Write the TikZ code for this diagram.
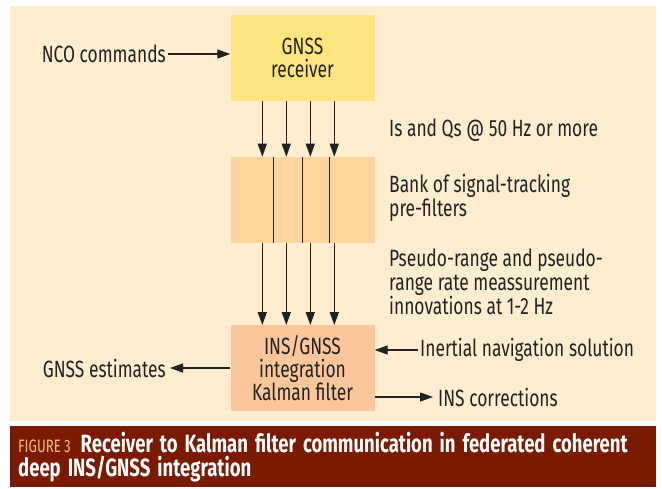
\documentclass[tikz,border=0pt]{standalone}
\usepackage{fontspec}
\setmainfont{Fira Sans}[FakeStretch=0.74]
\usetikzlibrary{positioning}
\usetikzlibrary{arrows.meta}

\definecolor{panelbg}{HTML}{FEEDCE}
\definecolor{rxfill}{HTML}{FFE57F}
\definecolor{bankfill}{HTML}{FDD59D}
\definecolor{kffill}{HTML}{FBC79A}
\definecolor{capbg}{HTML}{7A1A00}
\definecolor{capfig}{HTML}{F4C07A}
\definecolor{linecol}{HTML}{222222}

\tikzset{
  blk/.style={minimum width=144pt, minimum height=86pt, inner sep=0pt, align=center,
    font=\fontsize{23.5}{23}\selectfont, text=linecol},
  lbl/.style={inner sep=0pt, align=left, font=\fontsize{23.5}{24}\selectfont, text=linecol},
  arr/.style={line width=1.3pt, draw=linecol, -{Triangle[length=13pt,width=9pt]}},
}

\begin{document}
\begin{tikzpicture}[x=1pt, y=-1pt, node distance=56pt]
        \useasboundingbox (0,0) rectangle (662,488);
        \fill[panelbg] (10,6) rectangle (656,421);
        \fill[capbg] (10,426) rectangle (656,487);

        % Define nodes
        \node[blk, fill=rxfill]                   (rx)   at (302.5,57.5) {GNSS\\receiver};
        \node[blk, fill=bankfill, below=of rx]    (bank) {};
        \node[blk, fill=kffill, below=82pt of bank] (kf) {INS/GNSS\\integration\\Kalman filter};

        \node[lbl, anchor=east]  (nco)  at (166,54)  {NCO commands};
        \node[lbl, anchor=west]  (iq)   at (389,130) {Is and Qs @ 50 Hz or more};
        \node[lbl, anchor=west]  (bdesc) at (389,198) {Bank of signal-tracking\\pre-filters};
        \node[lbl, anchor=west]  (inno) at (389,282) {Pseudo-range and pseudo-\\range rate meassurement\\innovations at 1-2 Hz};
        \node[lbl, anchor=west]  (ins)  at (420,350) {Inertial navigation solution};
        \node[lbl, anchor=east]  (est)  at (166,368) {GNSS estimates};
        \node[lbl, anchor=west]  (corr) at (438,397) {INS corrections};

        \node[anchor=north west, inner sep=0pt, align=left, text width=636pt, text=white,
              font=\fontsize{25}{24}\selectfont\bfseries] (cap) at (18,432)
          {\spaceskip=7pt plus 1pt\relax{\fontsize{18}{24}\selectfont\mdseries\color{capfig}FIGURE\kern3pt 3}\hspace{10pt}Receiver to Kalman filter communication in federated coherent\\deep INS/GNSS integration};

        % Connect the nodes
        \foreach \dx in {32,56,80,104}
          \draw[arr] ([xshift=\dx]rx.south west) -- ([xshift=\dx]bank.north west);
        \foreach \dx in {43,72,99}
          \draw[line width=1.3pt, linecol] ([xshift=\dx]bank.north west) -- ([xshift=\dx]bank.south west);
        \foreach \dx in {32,56,80,104}
          \draw[arr] ([xshift=\dx]bank.south west) -- ([xshift=\dx]kf.north west);
        \draw[arr] ([xshift=2pt]nco.east) -- (nco.east -| rx.west);
        \draw[arr] ([xshift=-2pt]ins.west) -- (ins.west -| kf.east);
        \draw[arr] (est.east -| kf.west) -- ([xshift=4pt]est.east);
        \draw[arr] (corr.west -| kf.east) -- ([xshift=-5pt]corr.west);
\end{tikzpicture}
\end{document}
